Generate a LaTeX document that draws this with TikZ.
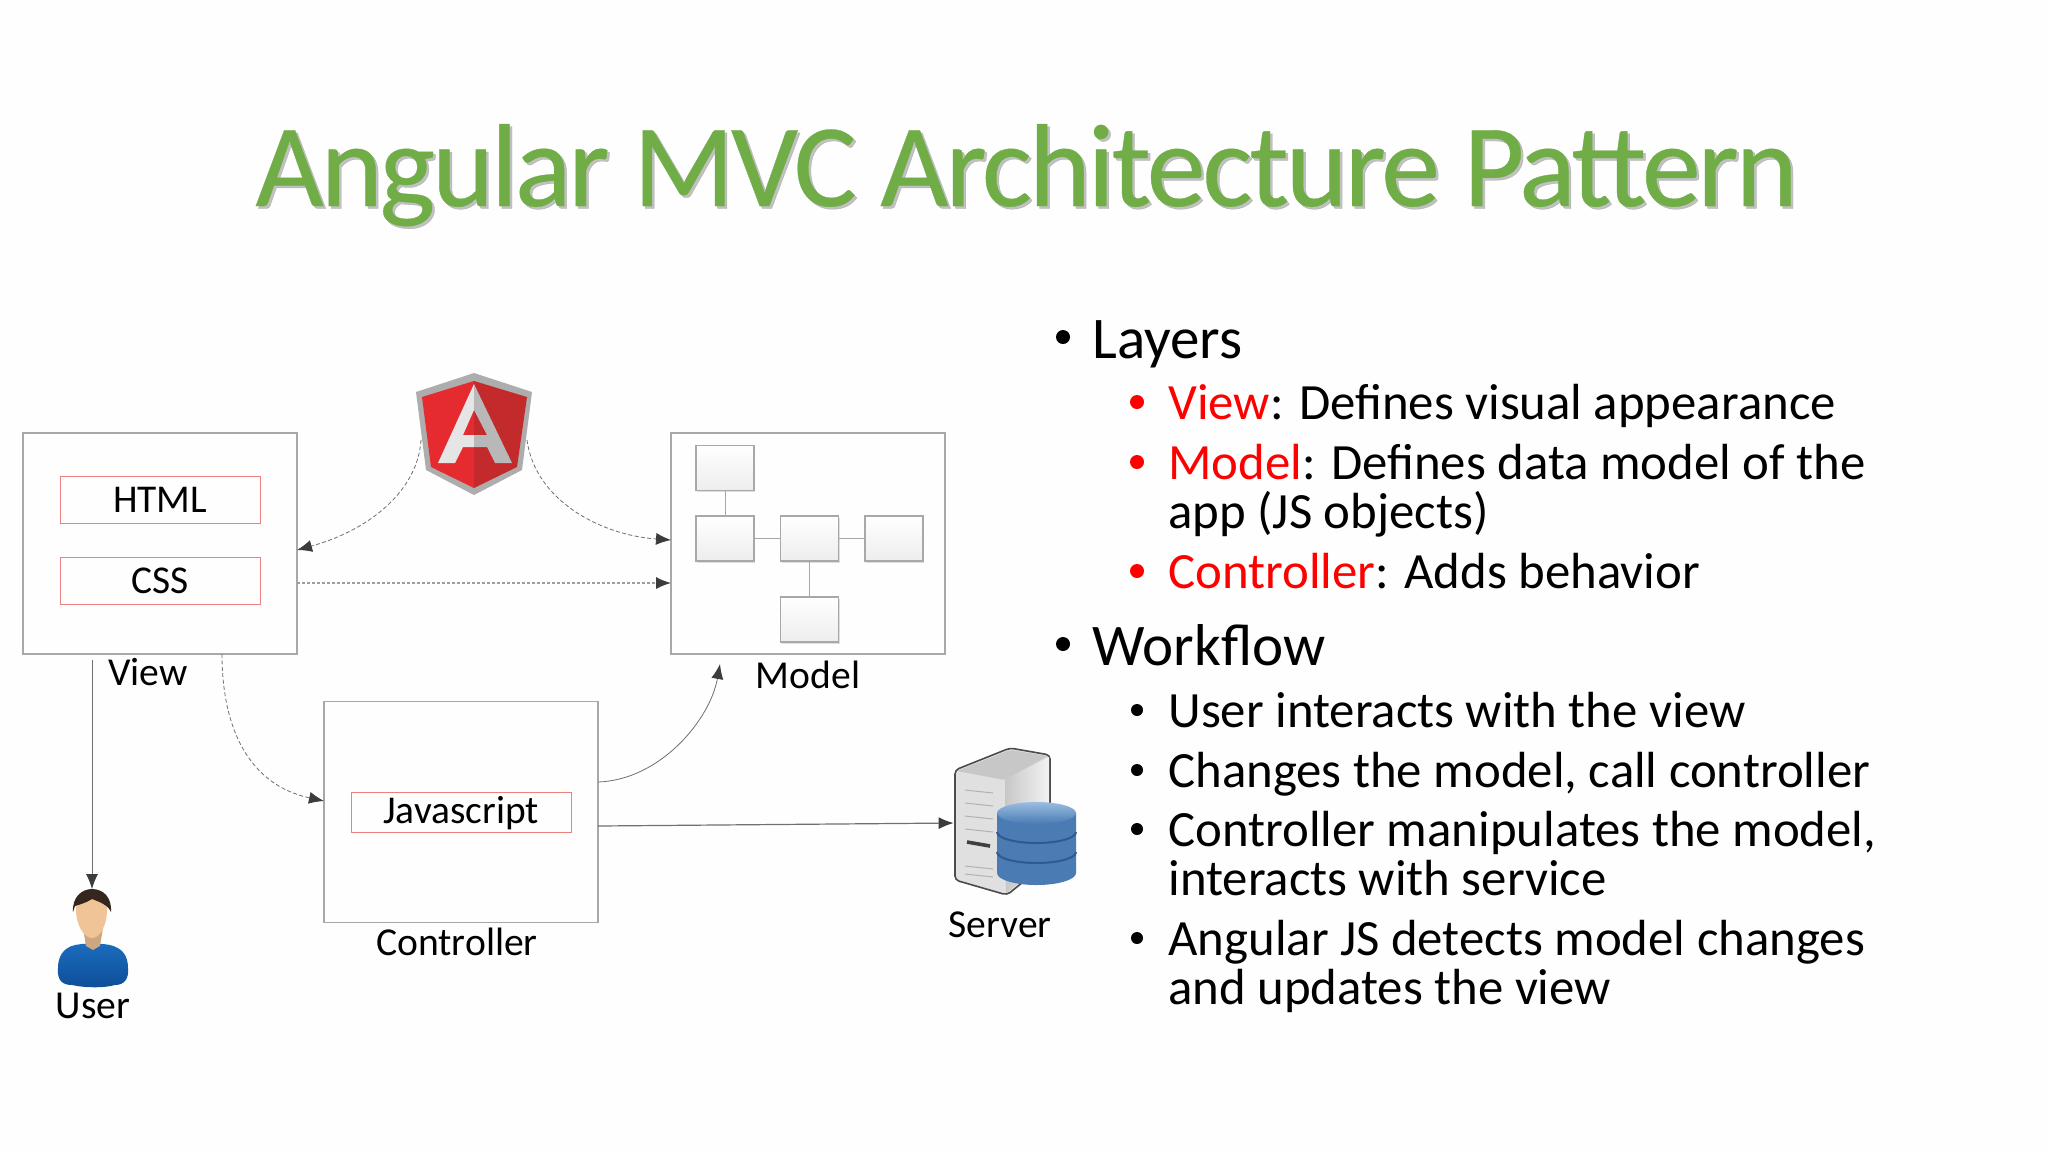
\documentclass[tikz,border=0pt]{standalone}
\usepackage{fontspec}
\setmainfont{Carlito}
\newfontfamily\titlefont[LetterSpace=-2.6,FakeBold=0.3]{Carlito}
\usetikzlibrary{arrows.meta,shadows}
\definecolor{titlegreen}{HTML}{70AD47}
\definecolor{boxgray}{HTML}{A8A8A8}
\definecolor{redbox}{HTML}{EE8080}
\definecolor{linkgray}{HTML}{707070}
\definecolor{tipgray}{HTML}{3C3C3C}
\definecolor{angred}{HTML}{E52B30}
\definecolor{angdark}{HTML}{C22A2C}
\definecolor{dbblue}{HTML}{4A7BB2}
\definecolor{dblight}{HTML}{9ABDE2}
\definecolor{dbline}{HTML}{2F5A8E}
\definecolor{shirt}{HTML}{1B6CBC}
\definecolor{shirtdark}{HTML}{0E4E98}
\definecolor{skin}{HTML}{F0C496}
\definecolor{hair}{HTML}{35261F}
\begin{document}
\begin{tikzpicture}[
  x=0.5pt, y=-0.5pt,
  panel/.style={draw=boxgray, line width=0.7pt, inner sep=0pt, minimum width=137pt, minimum height=110.5pt},
  tagbox/.style={draw=redbox, line width=0.5pt, inner sep=0pt, font=\fontsize{19.7}{22}\selectfont},
  cell/.style={draw=boxgray, line width=0.6pt, top color=white, bottom color=black!7, minimum width=29pt, minimum height=22.5pt, inner sep=0pt,
    drop shadow={shadow xshift=0.6pt, shadow yshift=-0.9pt, opacity=0.25}},
  wire/.style={draw=boxgray, line width=0.5pt},
  lbl/.style={font=\fontsize{19.8}{22}\selectfont, inner sep=0pt, anchor=base},
  link/.style={draw=linkgray, line width=0.4pt, -{Latex[length=7.5pt,width=6pt,color=tipgray]}},
  dashlink/.style={link, dash pattern=on 2pt off 1.2pt},
  toptext/.style={font=\fontsize{29.5}{34}\selectfont, inner sep=0pt, anchor=base west},
  subtext/.style={font=\fontsize{25.4}{30}\selectfont, inner sep=0pt, anchor=base west},
  topdot/.style={circle, fill=black, inner sep=0pt, minimum size=7pt},
  subdot/.style={circle, fill=black, inner sep=0pt, minimum size=6pt},
  hotdot/.style={subdot, fill=red, minimum size=7pt},
  spot/.style={inner sep=0pt}
]
\useasboundingbox (0,0) rectangle (2048,1152);
\fill[white!99.5!black] (0,0) rectangle (2048,1152);

% --- title ---
\node[font=\titlefont\fontsize{59}{70}\selectfont, text=black!40, opacity=0.6, inner sep=0pt, anchor=base west] (titleshadow) at (257.5,208.5) {Angular MVC Architecture Pattern};
\node[font=\titlefont\fontsize{59}{70}\selectfont, text=titlegreen, inner sep=0pt, anchor=base west] (title) at (255,206) {Angular MVC Architecture Pattern};

% --- view ---
\node[panel] (view) at (160,543.5) {};
\node[tagbox, minimum width=100pt, minimum height=23.5pt] (html) at (160,499.5) {HTML};
\node[tagbox, minimum width=100pt, minimum height=23.5pt] (css) at (160,580.5) {CSS};
\node[lbl] (viewlbl) at (148,685) {View};

% --- model ---
\node[panel] (model) at (808,543.5) {};
\node[cell] (m1) at (725,468) {};
\node[cell] (m2) at (725,538.5) {};
\node[cell] (m3) at (809.5,538.5) {};
\node[cell] (m4) at (894,538.5) {};
\node[cell] (m5) at (809.5,619.5) {};
\draw[wire] (m1)--(m2);
\draw[wire] (m2)--(m3);
\draw[wire] (m3)--(m4);
\draw[wire] (m3)--(m5);
\node[lbl] (modellbl) at (808,688) {Model};

% --- controller ---
\node[panel] (ctrl) at (461,812) {};
\node[tagbox, minimum width=110pt, minimum height=20pt, text height=13pt, text depth=2pt] (js) at (461,812) {Javascript};
\node[lbl] (ctrllbl) at (457,955) {Controller};

% --- logo ---
\node[spot, minimum width=58pt, minimum height=61pt] (logo) at (474,434) {};
\fill[black!32] (474,373) -- (532,392) -- (522,470) -- (474,495) -- (426,470) -- (416,392) -- cycle;
\fill[angred] (474,381) -- (422,397) -- (431,467) -- (474,488) -- cycle;
\fill[angdark] (474,381) -- (527,397) -- (517,467) -- (474,488) -- cycle;
\fill[black!10] (474,384) -- (438,463) -- (455,463) -- (463,447) -- (474,447) -- (474,435) -- (463,435) -- (474,410) -- cycle;
\fill[black!28] (474,384) -- (512,463) -- (495,463) -- (487,447) -- (474,447) -- (474,435) -- (487,435) -- (474,410) -- cycle;

% --- user ---
\node[spot, minimum width=35pt, minimum height=49pt] (user) at (93,938) {};
\shade[top color=shirt, bottom color=shirtdark] (75,945) .. controls (62,948) and (58,958) .. (58,968) .. controls (57,980) and (62,985) .. (72,985) .. controls (85,988) and (105,988) .. (115,985) .. controls (125,985) and (129,978) .. (128,968) .. controls (128,955) and (122,948) .. (110,945) .. controls (100,943) and (85,943) .. (75,945) -- cycle;
\fill[skin!85!black] (83,928) -- (103,928) -- (100,946) -- (93,950) -- (86,946) -- cycle;
\fill[skin] (76,905) .. controls (75,925) and (84,938) .. (92,938) .. controls (100,938) and (108,925) .. (107,905) -- (92,897) -- cycle;
\fill[hair] (73,912) .. controls (72,897) and (82,889) .. (92,889) .. controls (103,889) and (112,897) .. (111,912) .. controls (108,905) and (100,902) .. (92,899) .. controls (86,903) and (78,905) .. (75,906) -- cycle;
\node[lbl] (userlbl) at (93,1018) {User};

% --- server ---
\node[spot, minimum width=61pt, minimum height=75pt] (server) at (1015,823) {};
\draw[black!70, line width=0.8pt, rounded corners=2pt, fill=black!12] (955,770) -- (1010,748) -- (1050,755) -- (1050,860) -- (1007,895) -- (955,880) -- cycle;
\fill[black!22, rounded corners=1pt] (957,771) -- (1010,750) -- (1048,756) -- (1005,780) -- cycle;
\shade[left color=black!22, right color=black!5] (1005,780) -- (1049,757) -- (1049,860) -- (1006,893) -- cycle;
\foreach \yy in {790,803,816,829,866,874} {
  \draw[black!30, line width=0.5pt] (965,\yy) -- (993,\yy+3);
}
\draw[black!75, line width=1.8pt] (967,842) -- (990,846);
\shade[left color=dbblue, middle color=dblight, right color=dbblue] (997,813) -- (997,873) arc[start angle=180, end angle=0, x radius=39.5, y radius=12] -- (1076,813) -- cycle;
\draw[dbline, line width=1pt] (997,832) arc[start angle=180, end angle=0, x radius=39.5, y radius=11];
\draw[dbline, line width=1pt] (997,852) arc[start angle=180, end angle=0, x radius=39.5, y radius=11];
\shade[top color=dblight, bottom color=dbblue] (1036.5,813) ellipse[x radius=39.5, y radius=11];
\node[lbl] (serverlbl) at (1000,937) {Server};

% --- connectors ---
\coordinate (logoL) at (421,440);
\coordinate (logoR) at (527,440);
\coordinate (viewIn) at (297,550);
\coordinate (modelIn) at (671,540);
\coordinate (viewOut) at (297,583);
\coordinate (modelIn2) at (671,583);
\coordinate (viewDown) at (222,654);
\coordinate (ctrlIn) at (324,801);
\coordinate (userLine) at (92,660);
\coordinate (userIn) at (92,889);
\coordinate (ctrlUp) at (598,782);
\coordinate (modelUp) at (720,664);
\coordinate (ctrlOut) at (598,826);

\draw[dashlink] (logoL) .. controls (418,490) and (370,530) .. (viewIn);
\draw[dashlink] (logoR) .. controls (535,500) and (600,535) .. (modelIn);
\draw[dashlink, draw=black!38, dash pattern=on 1.3pt off 1.2pt, line width=0.6pt] (viewOut)--(modelIn2);
\draw[dashlink] (viewDown) .. controls (222,730) and (250,785) .. (ctrlIn);
\draw[link] (userLine)--(userIn);
\draw[link] (ctrlUp) .. controls (660,780) and (710,720) .. (modelUp);
\draw[link, line width=0.6pt] (ctrlOut)--(server.west);

% --- bullet text ---
\node[topdot] (b1) at (1063,337) {};
\node[toptext] (layers) at (1092,358) {Layers};
\node[hotdot] (b2) at (1137,402) {};
\node[subtext] (s1) at (1168,419) {\textcolor{red}{View}: Defines visual appearance};
\node[hotdot] (b3) at (1137,462) {};
\node[subtext] (s2) at (1168,479) {\textcolor{red}{Model}: Defines data model of the};
\node[subtext] (s2b) at (1168,528) {app (JS objects)};
\node[hotdot] (b4) at (1137,571) {};
\node[subtext] (s3) at (1168,588) {\textcolor{red}{Controller}: Adds behavior};

\node[topdot] (b5) at (1063,644) {};
\node[toptext] (workflow) at (1092,665) {Workflow};
\node[subdot] (b6) at (1137,710) {};
\node[subtext] (w1) at (1168,727) {User interacts with the view};
\node[subdot] (b7) at (1137,770) {};
\node[subtext] (w2) at (1168,787) {Changes the model, call controller};
\node[subdot] (b8) at (1137,829) {};
\node[subtext] (w3) at (1168,846) {Controller manipulates the model,};
\node[subtext] (w3b) at (1168,895) {interacts with service};
\node[subdot] (b9) at (1137,938) {};
\node[subtext] (w4) at (1168,955) {Angular JS detects model changes};
\node[subtext] (w4b) at (1168,1004) {and updates the view};

\end{tikzpicture}
\end{document}
